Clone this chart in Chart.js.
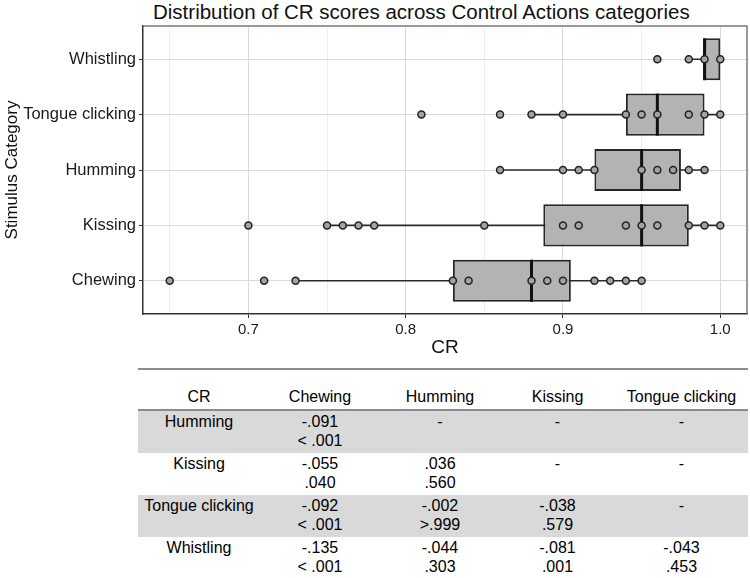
<!DOCTYPE html>
<html>
<head>
<meta charset="utf-8">
<script src="https://cdn.jsdelivr.net/npm/chart.js@4.4.0/dist/chart.umd.min.js"></script>
<style>
  body { margin: 0; background: #fff; font-family: "Liberation Sans", Arial, sans-serif; color: #000; }
  #wrap { position: relative; width: 750px; height: 578px; overflow: hidden; }
  #title { position: absolute; left: 153px; top: 1px; font-size: 20.5px; line-height: 22px; white-space: nowrap; color: #111; }
  #chartBox { position: absolute; left: 0; top: 0; width: 750px; height: 362px; }
  #posthoc { position: absolute; left: 138px; top: 368px; width: 610px; border-collapse: collapse; font-size: 16px; table-layout: fixed; }
  #posthoc th { font-weight: normal; height: 36px; padding: 0 0 3px 0; border-top: 2px solid #8c8c8c; border-bottom: 2px solid #8c8c8c; vertical-align: bottom; line-height: 19px; }
  #posthoc td { height: 41px; padding: 1px 0 0 0; vertical-align: top; text-align: center; line-height: 19px; }
  #posthoc tbody tr:nth-child(odd) td { background: #d9d9d9; }
  #posthoc tbody tr:last-child td { border-bottom: 2px solid #8c8c8c; }
</style>
</head>
<body>
<div id="wrap">
  <div id="title">Distribution of CR scores across Control Actions categories</div>
  <div id="chartBox"><canvas id="boxplot"></canvas></div>
  <table id="posthoc">
    <colgroup><col style="width:122px"><col style="width:120px"><col style="width:120px"><col style="width:115px"><col style="width:133px"></colgroup>
    <thead><tr></tr></thead>
    <tbody></tbody>
  </table>
</div>
<script>
// Categories, top to bottom
const categories = ["Whistling", "Tongue clicking", "Humming", "Kissing", "Chewing"];

// Individual CR scores per category
const whistlingCR = [0.96, 0.98, 0.99, 1.0];
const tongueClickingCR = [0.81, 0.86, 0.88, 0.90, 0.94, 0.95, 0.96, 0.98, 0.99, 1.0];
const hummingCR = [0.86, 0.90, 0.91, 0.92, 0.95, 0.96, 0.97, 0.98, 0.99];
const kissingCR = [0.70, 0.75, 0.76, 0.77, 0.78, 0.85, 0.90, 0.91, 0.94, 0.95, 0.96, 0.98, 0.99, 1.0];
const chewingCR = [0.65, 0.71, 0.73, 0.83, 0.84, 0.88, 0.89, 0.90, 0.92, 0.93, 0.94, 0.95];
const crByCategory = [whistlingCR, tongueClickingCR, hummingCR, kissingCR, chewingCR];

// Box summaries (same order as categories)
const boxQ1 = [0.99, 0.94, 0.92, 0.8875, 0.83];
const boxMedian = [0.99, 0.96, 0.95, 0.95, 0.88];
const boxQ3 = [1.0, 0.99, 0.975, 0.98, 0.905];
const whiskerLow = [0.98, 0.88, 0.86, 0.75, 0.73];
const whiskerHigh = [1.0, 1.0, 0.99, 1.0, 0.95];

// Axis ticks
const crTicks = [0.7, 0.8, 0.9, 1.0];
const crMinorTicks = [0.65, 0.75, 0.85, 0.95];

// Post-hoc table
const tableHeader = ["CR", "Chewing", "Humming", "Kissing", "Tongue clicking"];
const tableRows = ["Humming", "Kissing", "Tongue clicking", "Whistling"];
const tableDiffs = [
  ["-.091", "-", "-", "-"],
  ["-.055", ".036", "-", "-"],
  ["-.092", "-.002", "-.038", "-"],
  ["-.135", "-.044", "-.081", "-.043"]
];
const tablePvals = [
  ["< .001", "", "", ""],
  [".040", ".560", "", ""],
  ["< .001", ">.999", ".579", ""],
  ["< .001", ".303", ".001", ".453"]
];

// build the table
const headRow = document.querySelector("#posthoc thead tr");
tableHeader.forEach((h) => {
  const th = document.createElement("th");
  th.textContent = h;
  headRow.appendChild(th);
});
const body = document.querySelector("#posthoc tbody");
tableRows.forEach((name, r) => {
  const tr = document.createElement("tr");
  const first = document.createElement("td");
  first.textContent = name;
  tr.appendChild(first);
  tableDiffs[r].forEach((d, c) => {
    const td = document.createElement("td");
    td.innerHTML = d + "<br>" + tablePvals[r][c];
    tr.appendChild(td);
  });
  body.appendChild(tr);
});

Chart.defaults.font.family = "'Liberation Sans', Arial, sans-serif";
Chart.defaults.color = "#1a1a1a";

// panel border (top/right in grey like ggplot theme_bw)
const panelBorder = {
  id: "panelBorder",
  beforeDatasetsDraw(chart) {
    const { ctx, chartArea: a } = chart;
    ctx.save();
    ctx.strokeStyle = "#7a7a7a";
    ctx.lineWidth = 1.5;
    ctx.beginPath();
    ctx.moveTo(a.left, a.top);
    ctx.lineTo(a.right, a.top);
    ctx.lineTo(a.right, a.bottom);
    ctx.stroke();
    ctx.restore();
  }
};

const whiskerSets = categories.map((c, i) => ({
  type: "line",
  data: [{ x: whiskerLow[i], y: i }, { x: whiskerHigh[i], y: i }],
  borderColor: "#2b2b2b",
  borderWidth: 1.6,
  pointRadius: 0,
  fill: false,
  order: 3
}));

new Chart(document.getElementById("boxplot"), {
  type: "bar",
  data: {
    datasets: [
      ...whiskerSets,
      {
        type: "bar",
        indexAxis: "y",
        data: categories.map((c, i) => ({ x: [boxQ1[i], boxQ3[i]], y: i })),
        backgroundColor: "#b3b3b3",
        borderColor: "#262626",
        borderWidth: 2,
        borderSkipped: false,
        barPercentage: 0.76,
        categoryPercentage: 1,
        order: 2
      },
      {
        type: "scatter",
        data: categories.map((c, i) => ({ x: boxMedian[i], y: i })),
        pointStyle: "line",
        rotation: 90,
        pointRadius: 21,
        borderColor: "#111",
        borderWidth: 3,
        order: 1
      },
      {
        type: "scatter",
        data: crByCategory.flatMap((vals, i) => vals.map((v) => ({ x: v, y: i }))),
        pointRadius: 3.5,
        backgroundColor: "#a3a3a3",
        borderColor: "#222",
        borderWidth: 1.5,
        order: 0
      }
    ]
  },
  options: {
    responsive: true,
    maintainAspectRatio: false,
    animation: false,
    layout: { autoPadding: false, padding: { top: 26, right: 3, left: 0, bottom: 0 } },
    plugins: { legend: { display: false }, tooltip: { enabled: false } },
    scales: {
      x: {
        type: "linear",
        offset: false,
        min: 0.633,
        max: 1.017,
        afterBuildTicks: (s) => {
          s.ticks = [...crMinorTicks, ...crTicks].sort((a, b) => a - b).map((v) => ({ value: v }));
        },
        afterFit: (s) => { s.height = 48; },
        ticks: {
          autoSkip: false,
          maxRotation: 0,
          padding: 3,
          font: { size: 15 },
          callback: (v) => (crTicks.includes(v) ? v.toFixed(1) : "")
        },
        grid: {
          offset: false,
          color: (ctx) => (ctx.tick && crTicks.includes(ctx.tick.value) ? "#dadada" : "#ededed"),
          tickColor: (ctx) => (ctx.tick && crTicks.includes(ctx.tick.value) ? "#333" : "rgba(0,0,0,0)"),
          tickLength: 4
        },
        border: { color: "#333", width: 1.5 },
        title: { display: true, text: "CR", font: { size: 19 }, color: "#111", padding: { top: 0, bottom: 3 } }
      },
      y: {
        type: "linear",
        offset: false,
        reverse: true,
        min: -0.6,
        max: 4.6,
        afterBuildTicks: (s) => {
          s.ticks = categories.map((c, i) => ({ value: i }));
        },
        afterFit: (s) => { s.width = 143; },
        ticks: {
          autoSkip: false,
          padding: 3,
          font: { size: 16.5 },
          callback: (v) => categories[v]
        },
        grid: { offset: false, color: "#dadada", tickColor: "#333", tickLength: 4 },
        border: { color: "#333", width: 1.5 },
        title: { display: true, text: "Stimulus Category", font: { size: 17 }, color: "#111", padding: { top: 2, bottom: 0 } }
      }
    }
  },
  plugins: [panelBorder]
});
</script>
</body>
</html>
